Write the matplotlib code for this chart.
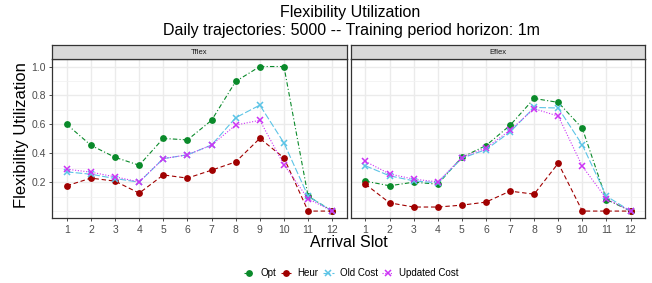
import numpy as np
import matplotlib
matplotlib.use("Agg")
import matplotlib.pyplot as plt
from matplotlib.lines import Line2D

plt.rcParams['font.family'] = ['Liberation Sans', 'DejaVu Sans']

slots = list(range(1, 13))
panels = ['Tflex', 'Eflex']
methods = ['Opt', 'Heur', 'Old Cost', 'Updated Cost']

# Tflex panel
tflex_opt = [0.60, 0.455, 0.372, 0.317, 0.503, 0.492, 0.628, 0.897, 1.0, 1.0, 0.103, 0.0]
tflex_heur = [0.175, 0.228, 0.207, 0.124, 0.25, 0.228, 0.283, 0.34, 0.503, 0.368, 0.0, 0.0]
tflex_old = [0.271, 0.255, 0.225, 0.20, 0.363, 0.389, 0.457, 0.646, 0.733, 0.471, 0.103, 0.0]
tflex_upd = [0.29, 0.269, 0.237, 0.202, 0.363, 0.389, 0.457, 0.595, 0.628, 0.32, 0.085, 0.0]

# Eflex panel
eflex_opt = [0.207, 0.175, 0.20, 0.186, 0.372, 0.453, 0.593, 0.779, 0.752, 0.572, 0.08, 0.0]
eflex_heur = [0.186, 0.057, 0.028, 0.028, 0.041, 0.062, 0.138, 0.117, 0.331, 0.0, 0.0, 0.0]
eflex_old = [0.313, 0.244, 0.209, 0.195, 0.366, 0.425, 0.547, 0.717, 0.713, 0.457, 0.103, 0.0]
eflex_upd = [0.343, 0.257, 0.221, 0.202, 0.37, 0.437, 0.559, 0.708, 0.657, 0.31, 0.085, 0.0]

data = {
    'Tflex': [tflex_opt, tflex_heur, tflex_old, tflex_upd],
    'Eflex': [eflex_opt, eflex_heur, eflex_old, eflex_upd],
}

colors = ['#0a8a2a', '#a00000', '#5cc4e6', '#cc33f5']
markers = ['o', 'o', 'x', 'x']
styles = [(0, (4, 2, 1, 2)), (0, (4, 2.5)), (0, (6, 2)), (0, (1, 1.5))]

fig = plt.figure(figsize=(6.52, 2.83), dpi=100)

W, H = 652.0, 283.0
ax_left = [52.3, 351.0]
ax_right = [346.7, 645.0]
ax_top, ax_bot = 59.3, 218.3
strip_top = 44.7

for i, name in enumerate(panels):
    l = ax_left[i] / W
    w = (ax_right[i] - ax_left[i]) / W
    ax = fig.add_axes([l, 1 - ax_bot / H, w, (ax_bot - ax_top) / H])
    for vals, c, m, ls, lab in zip(data[name], colors, markers, styles, methods):
        ax.plot(slots, vals, color=c, linestyle=ls, linewidth=0.8,
                marker=m, markersize=3.8 if m == 'o' else 4.8, markeredgewidth=1.1,
                label=lab, zorder=3)
    ax.set_xlim(0.4, 12.6)
    ax.set_ylim(-0.05, 1.05)
    ax.set_xticks(slots)
    ax.set_yticks([0.2, 0.4, 0.6, 0.8, 1.0])
    ax.set_yticks([0.0, 0.1, 0.3, 0.5, 0.7, 0.9], minor=True)
    ax.grid(which='major', color='#ebebeb', linewidth=1.0, zorder=0)
    ax.grid(which='minor', axis='y', color='#f2f2f2', linewidth=0.6, zorder=0)
    ax.set_axisbelow(True)
    ax.tick_params(axis='both', which='major', labelsize=7.5, colors='#333333',
                   labelcolor='#4d4d4d', length=2.5, width=0.6, pad=2)
    ax.tick_params(axis='y', which='minor', length=0)
    for s in ax.spines.values():
        s.set_color('#333333')
        s.set_linewidth(0.9)
    if i == 0:
        ax.yaxis.set_major_formatter(matplotlib.ticker.FormatStrFormatter('%.1f'))
    else:
        ax.tick_params(axis='y', which='major', labelleft=False, length=0)

    sax = fig.add_axes([l, 1 - ax_top / H, w, (ax_top - strip_top) / H])
    sax.set_facecolor('#d9d9d9')
    sax.set_xticks([])
    sax.set_yticks([])
    for s in sax.spines.values():
        s.set_color('#333333')
        s.set_linewidth(0.9)
    sax.text(0.5, 0.5, name, ha='center', va='center', fontsize=5.5, color='#1a1a1a',
             transform=sax.transAxes)

fig.text(350 / W, 1 - 13 / H, 'Flexibility Utilization', ha='center', va='center', fontsize=11.5)
fig.text(351 / W, 1 - 30 / H, 'Daily trajectories: 5000 -- Training period horizon: 1m',
         ha='center', va='center', fontsize=11.5)
fig.text(349 / W, 1 - 247 / H, 'Arrival Slot', ha='center', va='baseline', fontsize=11.5)
fig.text(22 / W, 1 - 135 / H, 'Flexibility Utilization', ha='center', va='center',
         rotation=90, fontsize=12)

handles = [Line2D([], [], color=c, linestyle=ls, linewidth=0.8, marker=m,
                  markersize=3.8 if m == 'o' else 4.8, markeredgewidth=1.1)
           for c, m, ls in zip(colors, markers, styles)]
fig.legend(handles, methods, loc='center', bbox_to_anchor=(351 / W, 1 - 273 / H),
           ncol=4, frameon=False, fontsize=7, handlelength=1.1, handletextpad=0.6,
           columnspacing=0.5, borderpad=0)

fig.savefig('out.png', dpi=100)
